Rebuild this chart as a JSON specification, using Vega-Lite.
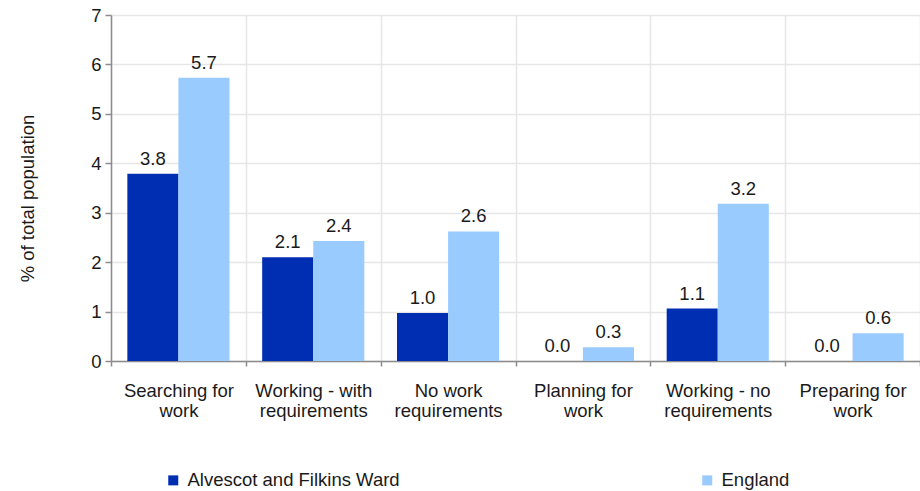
{
  "$schema": "https://vega.github.io/schema/vega-lite/v6.json",
  "width": 809,
  "height": 346,
  "autosize": {"type": "none"},
  "padding": {"left": 111, "top": 15, "right": 0, "bottom": 130},
  "background": "white",
  "config": {
    "font": "Liberation Sans",
    "view": {"stroke": null},
    "axis": {
      "labelFont": "Liberation Sans",
      "titleFont": "Liberation Sans",
      "labelColor": "#1a1a1a",
      "titleColor": "#1a1a1a",
      "labelFontSize": 18.5,
      "titleFontSize": 18.5,
      "titleFontWeight": "normal",
      "gridColor": "#e6e6e6",
      "gridWidth": 1.5,
      "domainColor": "#8c8c8c",
      "domainWidth": 1.5,
      "tickColor": "#8c8c8c",
      "tickWidth": 1.5,
      "tickSize": 6
    },
    "legend": {
      "labelFont": "Liberation Sans",
      "labelFontSize": 18.5,
      "labelColor": "#1a1a1a",
      "labelLimit": 0
    }
  },
  "data": {
    "values": [
      {"category": "Searching for work", "area": "Alvescot and Filkins Ward", "value": 3.79},
      {"category": "Searching for work", "area": "England", "value": 5.73},
      {"category": "Working - with requirements", "area": "Alvescot and Filkins Ward", "value": 2.1},
      {"category": "Working - with requirements", "area": "England", "value": 2.43},
      {"category": "No work requirements", "area": "Alvescot and Filkins Ward", "value": 0.97},
      {"category": "No work requirements", "area": "England", "value": 2.62},
      {"category": "Planning for work", "area": "Alvescot and Filkins Ward", "value": 0.0},
      {"category": "Planning for work", "area": "England", "value": 0.28},
      {"category": "Working - no requirements", "area": "Alvescot and Filkins Ward", "value": 1.06},
      {"category": "Working - no requirements", "area": "England", "value": 3.18},
      {"category": "Preparing for work", "area": "Alvescot and Filkins Ward", "value": 0.0},
      {"category": "Preparing for work", "area": "England", "value": 0.56}
    ]
  },
  "encoding": {
    "x": {
      "field": "category",
      "type": "nominal",
      "sort": null,
      "scale": {"paddingInner": 0, "paddingOuter": 0},
      "axis": {
        "title": null,
        "labelAngle": 0,
        "tickBand": "extent",
        "tickSize": 5,
        "grid": true,
        "labelPadding": 15,
        "labelLineHeight": 20,
        "labelExpr": "[substring(datum.label, 0, lastindexof(datum.label, ' ')), substring(datum.label, lastindexof(datum.label, ' ') + 1)]"
      }
    },
    "xOffset": {
      "field": "area",
      "type": "nominal",
      "sort": ["Alvescot and Filkins Ward", "England"],
      "scale": {"paddingOuter": 0.32, "paddingInner": 0}
    },
    "y": {
      "field": "value",
      "type": "quantitative",
      "scale": {"domain": [0, 7], "nice": false},
      "axis": {
        "title": "% of total population",
        "values": [0, 1, 2, 3, 4, 5, 6, 7],
        "format": "d",
        "labelPadding": 4,
        "titleX": -84,
        "titleY": 183,
        "titleAngle": -90,
        "titleBaseline": "middle",
        "titleAlign": "center"
      }
    }
  },
  "layer": [
    {
      "mark": {"type": "bar"},
      "encoding": {
        "color": {
          "field": "area",
          "type": "nominal",
          "sort": ["Alvescot and Filkins Ward", "England"],
          "scale": {"domain": ["Alvescot and Filkins Ward", "England"], "range": ["#002eb2", "#99cbff"]},
          "legend": {
            "title": null,
            "orient": "none",
            "direction": "horizontal",
            "legendX": 53,
            "legendY": 456,
            "symbolType": "square",
            "symbolSize": 100,
            "symbolStrokeWidth": 0,
            "labelOffset": 5,
            "columnPadding": 298
          }
        }
      }
    },
    {
      "mark": {"type": "text", "baseline": "bottom", "dy": -5, "fontSize": 18.5, "color": "#1a1a1a", "font": "Liberation Sans"},
      "encoding": {
        "text": {"field": "value", "type": "quantitative", "format": ".1f"}
      }
    }
  ]
}
